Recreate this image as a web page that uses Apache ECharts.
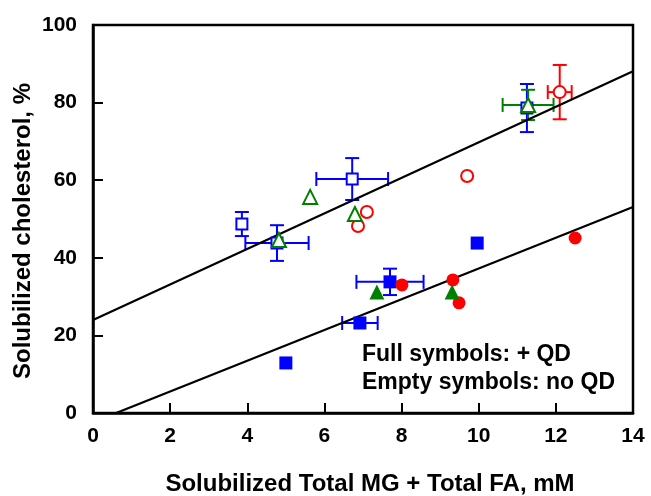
<!DOCTYPE html>
<html>
<head>
<meta charset="UTF-8">
<title>Solubilized cholesterol</title>
<script src="https://cdn.jsdelivr.net/npm/echarts@6/dist/echarts.min.js"></script>
<style>
  html, body {margin:0; padding:0; background:#fff}
  #chart {width:651px; height:496px}
</style>
</head>
<body>
<div id="chart"></div>
<script>
// [x, y, xErr, yErr]  (0 = no bar)
var openSquares   = [[3.86, 48.7, 0, 3.1], [4.77, 43.8, 0.82, 4.6], [6.72, 60.3, 0.93, 5.4], [11.25, 78.6, 0, 6.2]];
var openTriangles = [[4.82, 44.6, 0, 0], [5.63, 55.7, 0, 0], [6.79, 51.3, 0, 0], [11.28, 79.4, 0.66, 3.9]];
var openCircles   = [[6.87, 48.2, 0, 0], [7.10, 51.8, 0, 0], [9.70, 61.1, 0, 0], [12.10, 82.7, 0.31, 7.0]];
var fullSquares   = [[5.00, 12.9, 0, 0], [6.92, 23.2, 0.46, 0], [7.70, 33.8, 0.87, 3.4], [9.96, 43.8, 0, 0]];
var fullTriangles = [[7.36, 31.2, 0, 0], [9.31, 31.2, 0, 0]];
var fullCircles   = [[8.01, 33.0, 0, 0], [9.33, 34.3, 0, 0], [9.49, 28.4, 0, 0], [12.50, 45.1, 0, 0]];
var upperFit = [[0, 24.0], [14, 88.1]];
var lowerFit = [[0.6, 0], [14, 53.1]];
var xTicks = [0, 2, 4, 6, 8, 10, 12, 14];
var yTicks = [0, 20, 40, 60, 80, 100];

var BLUE = '#0000ff', RED = '#ff0000', GREEN = '#008000';
var font = '"Liberation Sans", Arial, sans-serif';

function errBars(data, color) {
  return {
    type: 'custom',
    z: 2,
    silent: true,
    data: data,
    renderItem: function (params, api) {
      var x = api.value(0), y = api.value(1), dx = api.value(2), dy = api.value(3);
      var st = {stroke: color, lineWidth: 2};
      var cap = 7;
      var kids = [];
      if (dx > 0) {
        var l = api.coord([x - dx, y]), r = api.coord([x + dx, y]);
        kids.push({type: 'line', shape: {x1: l[0], y1: l[1], x2: r[0], y2: r[1]}, style: st});
        kids.push({type: 'line', shape: {x1: l[0], y1: l[1] - cap, x2: l[0], y2: l[1] + cap}, style: st});
        kids.push({type: 'line', shape: {x1: r[0], y1: r[1] - cap, x2: r[0], y2: r[1] + cap}, style: st});
      }
      if (dy > 0) {
        var t = api.coord([x, y + dy]), b = api.coord([x, y - dy]);
        kids.push({type: 'line', shape: {x1: t[0], y1: t[1], x2: b[0], y2: b[1]}, style: st});
        kids.push({type: 'line', shape: {x1: t[0] - cap, y1: t[1], x2: t[0] + cap, y2: t[1]}, style: st});
        kids.push({type: 'line', shape: {x1: b[0] - cap, y1: b[1], x2: b[0] + cap, y2: b[1]}, style: st});
      }
      return {type: 'group', children: kids};
    }
  };
}

function pts(data, symbol, size, color, filled) {
  return {
    type: 'scatter',
    z: 5,
    symbol: symbol,
    symbolSize: size,
    data: data.map(function (d) { return [d[0], d[1]]; }),
    itemStyle: filled ? {color: color, opacity: 1} : {color: '#fff', borderColor: color, borderWidth: 2, opacity: 1},
    emphasis: {disabled: true}
  };
}

function fit(data) {
  return {
    type: 'line', z: 3, data: data, symbol: 'none',
    lineStyle: {color: '#000', width: 2.2}, silent: true
  };
}

var chart = echarts.init(document.getElementById('chart'));
chart.setOption({
  animation: false,
  grid: {left: 93, right: 18, top: 25, bottom: 83, show: true, borderColor: '#000', borderWidth: 2.5},
  xAxis: {
    type: 'value', min: 0, max: 14, interval: 2,
    axisLine: {lineStyle: {color: '#000', width: 2.5}},
    axisTick: {inside: true, length: 10, lineStyle: {color: '#000', width: 2}},
    axisLabel: {margin: 13, fontFamily: font, fontWeight: 'bold', fontSize: 21, color: '#000',
      formatter: function (v) { return xTicks.indexOf(v) >= 0 ? String(v) : ''; }},
    splitLine: {show: false}
  },
  yAxis: {
    type: 'value', min: 0, max: 100, interval: 20,
    axisLine: {lineStyle: {color: '#000', width: 2.5}},
    axisTick: {inside: true, length: 10, lineStyle: {color: '#000', width: 2}},
    axisLabel: {margin: 16, fontFamily: font, fontWeight: 'bold', fontSize: 21, color: '#000',
      formatter: function (v) { return yTicks.indexOf(v) >= 0 ? String(v) : ''; }},
    splitLine: {show: false}
  },
  graphic: [
    {type: 'text', x: 370, y: 484, style: {text: 'Solubilized Total MG + Total FA, mM', font: 'bold 24px ' + font,
      fill: '#000', align: 'center', verticalAlign: 'middle'}},
    {type: 'text', x: 23, y: 231, rotation: Math.PI / 2, style: {text: 'Solubilized cholesterol, %', font: 'bold 24px ' + font,
      fill: '#000', align: 'center', verticalAlign: 'middle'}},
    {type: 'text', x: 362, y: 355, style: {text: 'Full symbols: + QD', font: 'bold 23px ' + font, fill: '#000', verticalAlign: 'middle'}},
    {type: 'text', x: 362, y: 383, style: {text: 'Empty symbols: no QD', font: 'bold 23px ' + font, fill: '#000', verticalAlign: 'middle'}}
  ],
  series: [
    fit(upperFit),
    fit(lowerFit),
    errBars(openSquares, BLUE),
    errBars(fullSquares, BLUE),
    errBars(openTriangles, GREEN),
    errBars(openCircles, RED),
    pts(openSquares, 'rect', 11, BLUE, false),
    pts(openCircles, 'circle', 12, RED, false),
    pts(openTriangles, 'triangle', 14, GREEN, false),
    pts(fullSquares, 'rect', 13, BLUE, true),
    pts(fullCircles, 'circle', 13, RED, true),
    pts(fullTriangles, 'triangle', 15, GREEN, true)
  ]
});
</script>
</body>
</html>
